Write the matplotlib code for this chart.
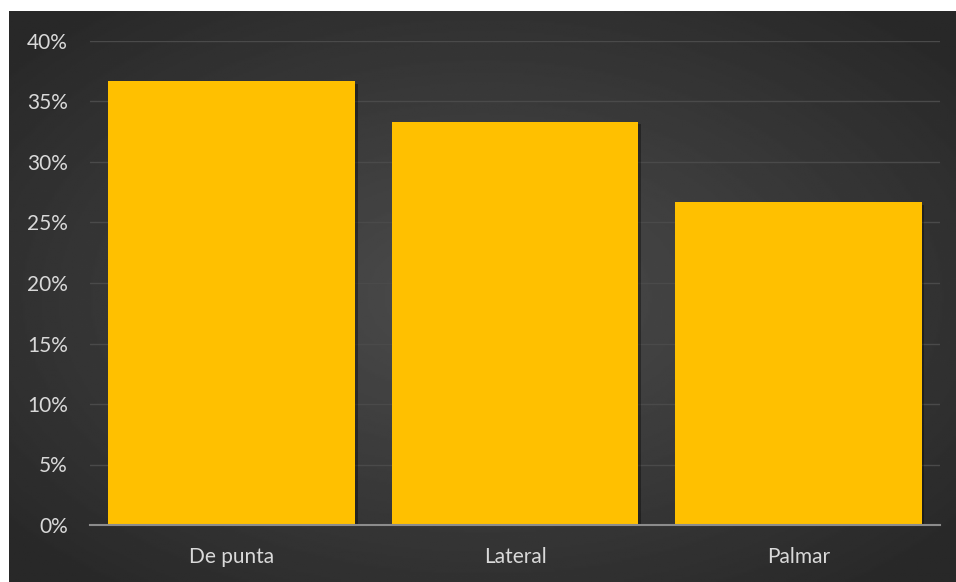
import numpy as np
import matplotlib.pyplot as plt
from matplotlib.ticker import FuncFormatter
import matplotlib.patheffects as pe

categories = ["De punta", "Lateral", "Palmar"]
values = [36.67, 33.33, 26.67]
yticks = [0, 5, 10, 15, 20, 25, 30, 35, 40]

plt.rcParams['font.family'] = ['Lato', 'DejaVu Sans']

fig = plt.figure(figsize=(9.56, 5.82), dpi=100)
fig.patch.set_facecolor('white')

# radial gradient chart area
bg = fig.add_axes([9/956, 0, 947/956, 571/582])
yy, xx = np.mgrid[-1:1:300j, -1:1:500j]
r = np.sqrt(xx**2 + yy**2)
grad = 0.30 - 0.14 * np.clip(r / 1.3, 0, 1)
bg.imshow(grad, cmap='gray', vmin=0, vmax=1, aspect='auto', extent=[0, 1, 0, 1])
bg.set_axis_off()

ax = fig.add_axes([90/956, 57/582, 850/956, 484/582])
ax.set_facecolor('none')
x = np.arange(len(categories))
bars = ax.bar(x, values, width=0.87, color='#FFC000', zorder=3)
for b in bars:
    b.set_path_effects([pe.SimplePatchShadow(offset=(2, -2), shadow_rgbFace='black', alpha=0.35), pe.Normal()])

ax.set_xlim(-0.5, len(categories) - 0.5)
ax.set_ylim(0, 40)
ax.set_yticks(yticks)
ax.yaxis.set_major_formatter(FuncFormatter(lambda v, p: f"{v:.0f}%"))
ax.set_xticks(x)
ax.set_xticklabels(categories)
ax.grid(axis='y', color='#4a4a4a', linewidth=1, zorder=0)
ax.tick_params(axis='both', length=0, colors='#d9d9d9', labelsize=15)
ax.tick_params(axis='x', pad=16)
ax.tick_params(axis='y', pad=16)
for s in ['top', 'right', 'left']:
    ax.spines[s].set_visible(False)
ax.spines['bottom'].set_color('#8c8c8c')
ax.spines['bottom'].set_linewidth(1.5)
ax.spines['bottom'].set_zorder(4)

fig.savefig("out.png", dpi=100)
